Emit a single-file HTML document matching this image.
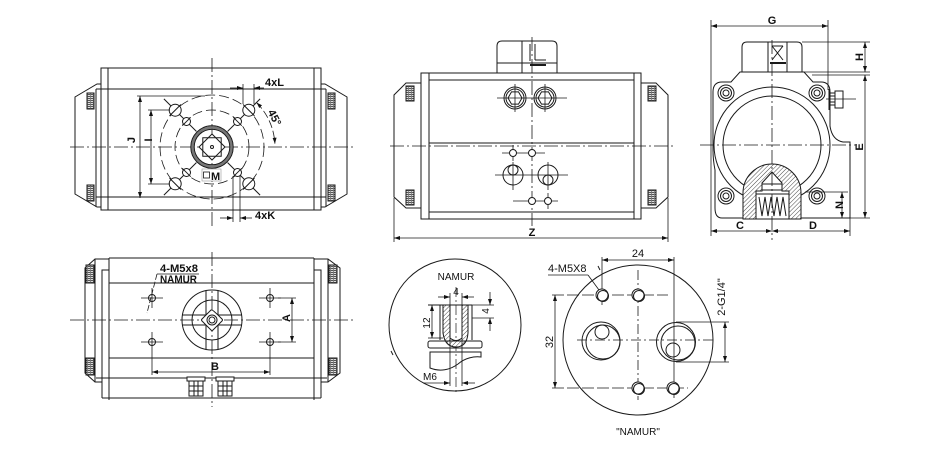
<!DOCTYPE html>
<html><head><meta charset="utf-8"><style>
html,body{margin:0;padding:0;background:#fff;}
svg{display:block;}
text{font-family:"Liberation Sans",Arial,sans-serif;fill:#111;}
.b{font-weight:bold;}
</style></head><body>
<svg width="940" height="450" viewBox="0 0 940 450" xmlns="http://www.w3.org/2000/svg">
<defs>
<marker id="a" viewBox="0 0 6 4" refX="6" refY="2" markerWidth="6" markerHeight="4" orient="auto-start-reverse" markerUnits="userSpaceOnUse" preserveAspectRatio="none"><path d="M0,0 L6,2 L0,4 z" fill="#111"/></marker>
<pattern id="k" width="3" height="2" patternUnits="userSpaceOnUse"><rect width="3" height="2" fill="#ddd"/><rect width="3" height="1" fill="#555"/><rect width="0.8" height="2" fill="#777"/></pattern>
<pattern id="h" width="3" height="3" patternUnits="userSpaceOnUse" patternTransform="rotate(45)"><rect width="3" height="3" fill="#fff"/><line x1="0" y1="0" x2="0" y2="3" stroke="#333" stroke-width="0.9"/></pattern>
</defs>
<rect width="940" height="450" fill="#fff"/>

<g stroke="#1a1a1a" fill="none" stroke-width="1">
<!-- ================= TOP LEFT VIEW ================= -->
<rect x="101" y="68" width="220" height="142"/>
<line x1="108" y1="68" x2="108" y2="210"/>
<line x1="314" y1="68" x2="314" y2="210"/>
<line x1="96" y1="89" x2="326" y2="89"/>
<line x1="96" y1="197" x2="326" y2="197"/>
<polyline points="101,84 97,84 75,97 75,194 97,207 101,207"/>
<line x1="96" y1="89" x2="96" y2="207"/>
<polyline points="321,84 325,84 347,97 347,194 325,207 321,207"/>
<line x1="326" y1="89" x2="326" y2="207"/>
<rect x="87" y="93" width="7" height="16" fill="url(#k)"/>
<rect x="87" y="185" width="7" height="16" fill="url(#k)"/>
<rect x="328" y="93" width="7" height="16" fill="url(#k)"/>
<rect x="328" y="185" width="7" height="16" fill="url(#k)"/>
<line x1="70" y1="147" x2="353" y2="147" stroke-dasharray="14 3 2 3" stroke-width=".8"/>
<line x1="212" y1="58" x2="212" y2="228" stroke-dasharray="14 3 2 3" stroke-width=".8"/>
<circle cx="212" cy="147" r="52" stroke-dasharray="10 4" stroke-width=".8"/>
<circle cx="212" cy="147" r="37" stroke-dasharray="10 4" stroke-width=".8"/>
<path d="M256.5,102.5 A63,63 0 0 1 274.9,143.7" stroke-dasharray="8 3" stroke-width=".8" marker-start="url(#a)" marker-end="url(#a)"/>
<circle cx="212" cy="147" r="19.5" stroke="#777" stroke-width="2.6"/>
<circle cx="212" cy="147" r="21.2"/>
<circle cx="212" cy="147" r="17.8"/>
<polygon points="225,147 212,134 199,147 212,160" fill="#fff"/>
<polygon points="221.2,137.8 202.8,137.8 202.8,156.2 221.2,156.2"/>
<circle cx="212" cy="147" r="1.5"/>
<line x1="196.4" y1="131.4" x2="163.9" y2="98.9"/>
<line x1="227.6" y1="131.4" x2="260.1" y2="98.9"/>
<line x1="196.4" y1="162.6" x2="163.9" y2="195.1"/>
<line x1="227.6" y1="162.6" x2="260.1" y2="195.1"/>
<circle cx="175.2" cy="110.2" r="6" fill="#fff"/><circle cx="248.8" cy="110.2" r="6" fill="#fff"/>
<circle cx="175.2" cy="183.8" r="6" fill="#fff"/><circle cx="248.8" cy="183.8" r="6" fill="#fff"/>
<circle cx="186.5" cy="121.5" r="4" fill="#fff"/><circle cx="237.5" cy="121.5" r="4" fill="#fff"/>
<circle cx="186.5" cy="172.5" r="4" fill="#fff"/><circle cx="237.5" cy="172.5" r="4" fill="#fff"/>
<line x1="180.9" y1="104.5" x2="169.5" y2="115.9"/>
<line x1="254.5" y1="115.9" x2="243.1" y2="104.5"/>
<line x1="180.9" y1="189.5" x2="169.5" y2="178.1"/>
<line x1="254.5" y1="178.1" x2="243.1" y2="189.5"/>
<line x1="190.7" y1="117.3" x2="182.3" y2="125.7"/>
<line x1="241.7" y1="125.7" x2="233.3" y2="117.3"/>
<line x1="190.7" y1="176.7" x2="182.3" y2="168.3"/>
<line x1="241.7" y1="168.3" x2="233.3" y2="176.7"/>
<!-- J / I dims -->
<line x1="140" y1="96" x2="140" y2="198" stroke-width=".8" marker-start="url(#a)" marker-end="url(#a)"/>
<line x1="137" y1="96" x2="205" y2="96" stroke-width=".8"/>
<line x1="151" y1="110" x2="151" y2="184" stroke-width=".8" marker-start="url(#a)" marker-end="url(#a)"/>
<line x1="148" y1="110" x2="170" y2="110" stroke-width=".8"/>
<line x1="148" y1="184" x2="170" y2="184" stroke-width=".8"/>
<!-- 4xL -->
<line x1="243" y1="84" x2="243" y2="104" stroke-width=".8"/>
<line x1="254" y1="84" x2="254" y2="104" stroke-width=".8"/>
<line x1="230" y1="88" x2="243" y2="88" stroke-width=".8" marker-end="url(#a)"/>
<line x1="264" y1="88" x2="254" y2="88" stroke-width=".8" marker-end="url(#a)"/>
<!-- 4xK -->
<line x1="233" y1="176" x2="233" y2="222" stroke-width=".8"/>
<line x1="240" y1="176" x2="240" y2="222" stroke-width=".8"/>
<line x1="220" y1="218" x2="233" y2="218" stroke-width=".8" marker-end="url(#a)"/>
<line x1="252" y1="218" x2="240" y2="218" stroke-width=".8" marker-end="url(#a)"/>
<rect x="202" y="169" width="19" height="12" fill="#fff" stroke="#999" stroke-width=".6"/>
<rect x="203.5" y="172" width="6" height="6" stroke-width=".8"/>

<!-- ================= TOP MIDDLE VIEW ================= -->
<rect x="421" y="73" width="220" height="146"/>
<line x1="429" y1="73" x2="429" y2="219"/>
<line x1="634" y1="73" x2="634" y2="219"/>
<line x1="429" y1="80" x2="634" y2="80"/>
<line x1="429" y1="212" x2="634" y2="212"/>
<line x1="429" y1="143" x2="634" y2="143"/>
<line x1="390" y1="146" x2="675" y2="146" stroke-dasharray="14 3 2 3" stroke-width=".8"/>
<polyline points="421,83 406,83 394,95 394,197 406,208 421,208"/>
<polyline points="641,83 656,83 668,95 668,197 656,208 641,208"/>
<rect x="406" y="86" width="8" height="15" fill="url(#k)"/>
<rect x="406" y="190" width="8" height="15" fill="url(#k)"/>
<rect x="648" y="86" width="8" height="15" fill="url(#k)"/>
<rect x="648" y="190" width="8" height="15" fill="url(#k)"/>
<path d="M497,73 L497,46 Q497,41 502,41 L552,41 Q557,41 557,46 L557,73"/>
<line x1="522" y1="41" x2="522" y2="73"/>
<line x1="497" y1="63" x2="557" y2="63"/>
<line x1="530" y1="44" x2="530" y2="61"/>
<line x1="535" y1="44" x2="535" y2="60"/>
<line x1="535" y1="60" x2="546" y2="60"/>
<line x1="530" y1="65" x2="546" y2="65" stroke-width="2"/>
<line x1="532" y1="37" x2="532" y2="226" stroke-dasharray="14 3 2 3" stroke-width=".8"/>
<circle cx="515" cy="98" r="11"/><circle cx="515" cy="98" r="9"/>
<polygon points="522,98 518.5,91.9 511.5,91.9 508,98 511.5,104.1 518.5,104.1"/>
<circle cx="545" cy="98" r="11"/><circle cx="545" cy="98" r="9"/>
<polygon points="552,98 548.5,91.9 541.5,91.9 538,98 541.5,104.1 548.5,104.1"/>
<line x1="497" y1="98" x2="567" y2="98" stroke-width=".8"/>
<line x1="515" y1="84" x2="515" y2="112" stroke-width=".8"/>
<line x1="545" y1="84" x2="545" y2="112" stroke-width=".8"/>
<line x1="502" y1="153" x2="545" y2="153" stroke-width=".8"/>
<line x1="513" y1="145" x2="513" y2="161" stroke-width=".8"/>
<circle cx="513" cy="153" r="3.5" fill="#fff"/><circle cx="532" cy="153" r="3.5" fill="#fff"/>
<line x1="495" y1="175" x2="568" y2="175" stroke-width=".8"/>
<line x1="513" y1="162" x2="513" y2="190" stroke-width=".8"/>
<line x1="548" y1="162" x2="548" y2="190" stroke-width=".8"/>
<circle cx="513" cy="175" r="10"/><circle cx="513" cy="170" r="5"/>
<circle cx="548" cy="175" r="10"/><circle cx="548" cy="180" r="5"/>
<line x1="513" y1="201" x2="558" y2="201" stroke-width=".8"/>
<line x1="548" y1="193" x2="548" y2="209" stroke-width=".8"/>
<circle cx="532" cy="201" r="3.5" fill="#fff"/><circle cx="548" cy="201" r="3.5" fill="#fff"/>
<line x1="394" y1="198" x2="394" y2="242" stroke-width=".8"/>
<line x1="668" y1="198" x2="668" y2="242" stroke-width=".8"/>
<line x1="394" y1="238" x2="668" y2="238" stroke-width=".8" marker-start="url(#a)" marker-end="url(#a)"/>

<!-- ================= TOP RIGHT VIEW ================= -->
<line x1="711" y1="20" x2="711" y2="236" stroke-width=".8"/>
<line x1="828" y1="20" x2="828" y2="90" stroke-width=".8"/>
<line x1="711" y1="26" x2="828" y2="26" stroke-width=".8" marker-start="url(#a)" marker-end="url(#a)"/>
<path d="M742,72 L742,47 Q742,42 747,42 L797,42 Q802,42 802,47 L802,72"/>
<line x1="768" y1="42" x2="768" y2="72"/>
<line x1="787" y1="42" x2="787" y2="72"/>
<line x1="772" y1="46" x2="783" y2="46"/>
<line x1="772" y1="46" x2="783" y2="60"/>
<line x1="783" y1="46" x2="772" y2="60"/>
<line x1="770" y1="63" x2="786" y2="63" stroke-width="2"/>
<path d="M713,92 Q713,82 722,82 L731,82 L740,72 L804,72 L813,82 L821,82 Q830,82 830,92 L830,126 Q832,140 843,142 L850,142 L850,218 L722,218 Q715,218 715,208 L715,170 Q713,160 713,150 Z"/>
<circle cx="772" cy="145" r="58"/>
<circle cx="772" cy="145" r="49"/>
<circle cx="726" cy="93" r="8"/><circle cx="726" cy="93" r="5.5"/><circle cx="726" cy="93" r="3"/>
<circle cx="817" cy="93" r="8"/><circle cx="817" cy="93" r="5.5"/><circle cx="817" cy="93" r="3"/>
<circle cx="726" cy="196" r="8"/><circle cx="726" cy="196" r="5.5"/><circle cx="726" cy="196" r="3"/>
<circle cx="817" cy="196" r="8"/><circle cx="817" cy="196" r="5.5"/><circle cx="817" cy="196" r="3"/>
<rect x="835" y="91" width="8" height="17"/>
<line x1="829" y1="89" x2="829" y2="110"/>
<line x1="829" y1="93" x2="835" y2="93"/><line x1="829" y1="96" x2="835" y2="96"/>
<line x1="829" y1="102" x2="835" y2="102"/><line x1="829" y1="105" x2="835" y2="105"/>
<line x1="826" y1="99" x2="856" y2="99" stroke-width=".8"/>
<path d="M743,219 L743,193 A29,29 0 0 1 801,193 L801,219 Z" fill="url(#h)"/>
<path d="M756,219 L756,191 L762,191 L762,183 L772,172 L782,183 L782,191 L789,191 L789,219 Z" fill="#fff"/>
<rect x="762" y="184" width="20" height="6"/>
<line x1="756" y1="194" x2="789" y2="194"/>
<polyline points="759,197 762,216 765,197 768,216 771,197 774,216 777,197 780,216 783,197 786,216"/>
<line x1="772" y1="40" x2="772" y2="240" stroke-dasharray="14 3 2 3" stroke-width=".8"/>
<line x1="700" y1="145" x2="856" y2="145" stroke-dasharray="14 3 2 3" stroke-width=".8"/>
<line x1="802" y1="42" x2="870" y2="42" stroke-width=".8"/>
<line x1="804" y1="72" x2="870" y2="72" stroke-width=".8"/>
<line x1="812" y1="75" x2="870" y2="75" stroke-width=".8"/>
<line x1="850" y1="218" x2="870" y2="218" stroke-width=".8"/>
<line x1="865" y1="42" x2="865" y2="72" stroke-width=".8" marker-start="url(#a)" marker-end="url(#a)"/>
<line x1="865" y1="75" x2="865" y2="218" stroke-width=".8" marker-start="url(#a)" marker-end="url(#a)"/>
<line x1="805" y1="192" x2="848" y2="192" stroke-width=".8"/>
<line x1="842" y1="192" x2="842" y2="218" stroke-width=".8" marker-start="url(#a)" marker-end="url(#a)"/>
<line x1="850" y1="218" x2="850" y2="236" stroke-width=".8"/>
<line x1="711" y1="231" x2="772" y2="231" stroke-width=".8" marker-start="url(#a)" marker-end="url(#a)"/>
<line x1="772" y1="231" x2="850" y2="231" stroke-width=".8" marker-start="url(#a)" marker-end="url(#a)"/>

<!-- ================= BOTTOM LEFT VIEW ================= -->
<line x1="109" y1="258" x2="314" y2="258"/>
<line x1="109" y1="258" x2="109" y2="400"/>
<line x1="314" y1="258" x2="314" y2="400"/>
<line x1="109" y1="283" x2="314" y2="283"/>
<line x1="109" y1="358" x2="314" y2="358"/>
<line x1="96" y1="378" x2="327" y2="378"/>
<line x1="102" y1="398" x2="321" y2="398"/>
<polyline points="109,270 102,270 102,398"/>
<polyline points="314,270 321,270 321,398"/>
<polyline points="109,259 95,259 85,268 85,373 95,382 102,382"/>
<line x1="95" y1="259" x2="95" y2="382"/>
<polyline points="314,259 328,259 340,268 340,373 328,382 321,382"/>
<line x1="328" y1="259" x2="328" y2="382"/>
<rect x="86" y="265" width="8" height="18" fill="url(#k)"/>
<rect x="86" y="358" width="8" height="17" fill="url(#k)"/>
<rect x="329" y="265" width="8" height="18" fill="url(#k)"/>
<rect x="329" y="358" width="8" height="17" fill="url(#k)"/>
<line x1="70" y1="320" x2="353" y2="320" stroke-dasharray="14 3 2 3" stroke-width=".8"/>
<line x1="212" y1="252" x2="212" y2="407" stroke-dasharray="14 3 2 3" stroke-width=".8"/>
<circle cx="212" cy="320" r="30"/>
<circle cx="212" cy="320" r="20"/>
<line x1="206" y1="290.6" x2="206" y2="349.4"/>
<line x1="218" y1="290.6" x2="218" y2="349.4"/>
<line x1="182.4" y1="315" x2="241.6" y2="315"/>
<line x1="182.4" y1="325" x2="241.6" y2="325"/>
<path d="M212,310 Q213,310 222,319 Q223,320 222,321 L213,330 Q212,331 211,330 L202,321 Q201,320 202,319 L211,310 Q211.5,310 212,310 Z" fill="#fff"/>
<circle cx="212" cy="320" r="5"/><circle cx="212" cy="320" r="3"/>
<circle cx="152" cy="298" r="3.5"/><circle cx="270" cy="298" r="3.5"/>
<circle cx="152" cy="342" r="3.5"/><circle cx="270" cy="342" r="3.5"/>
<g stroke-width=".8">
<line x1="141" y1="298" x2="163" y2="298"/><line x1="152" y1="288" x2="152" y2="308"/>
<line x1="259" y1="298" x2="281" y2="298"/><line x1="270" y1="288" x2="270" y2="308"/>
<line x1="141" y1="342" x2="163" y2="342"/><line x1="152" y1="332" x2="152" y2="375"/>
<line x1="259" y1="342" x2="281" y2="342"/><line x1="270" y1="332" x2="270" y2="375"/>
<line x1="278" y1="298" x2="296" y2="298"/>
<line x1="278" y1="342" x2="296" y2="342"/>
</g>
<line x1="157" y1="274" x2="199" y2="274" stroke-width=".8"/>
<line x1="157" y1="274" x2="147" y2="313" stroke-width=".8" stroke-dasharray="6 2"/>
<line x1="292" y1="298" x2="292" y2="342" stroke-width=".8" marker-start="url(#a)" marker-end="url(#a)"/>
<line x1="152" y1="372" x2="270" y2="372" stroke-width=".8" marker-start="url(#a)" marker-end="url(#a)"/>
<g fill="#fff">
<rect x="187" y="377" width="18" height="4"/>
<rect x="189" y="381" width="14" height="15"/>
<rect x="216" y="377" width="18" height="4"/>
<rect x="218" y="381" width="14" height="15"/>
</g>
<line x1="189" y1="386" x2="203" y2="386"/><line x1="189" y1="391" x2="203" y2="391"/>
<line x1="194" y1="381" x2="194" y2="396"/><line x1="198" y1="381" x2="198" y2="396"/>
<line x1="218" y1="386" x2="232" y2="386"/><line x1="218" y1="391" x2="232" y2="391"/>
<line x1="223" y1="381" x2="223" y2="396"/><line x1="227" y1="381" x2="227" y2="396"/>

<!-- ================= BOTTOM MIDDLE (NAMUR detail) ================= -->
<circle cx="455" cy="325" r="66"/>
<line x1="456" y1="287" x2="456" y2="392" stroke-dasharray="10 3 2 3" stroke-width=".7"/>
<line x1="428" y1="305" x2="472" y2="305"/>
<line x1="440" y1="305" x2="440" y2="340"/>
<line x1="472" y1="305" x2="472" y2="340"/>
<line x1="428" y1="338" x2="443" y2="338" stroke-width=".8"/>
<path d="M443,305 L450,305 L450,338 Q456,343 462,338 L462,305 L468,305 L468,333 Q467,347 456,347 Q445,347 443,333 Z" fill="url(#h)"/>
<line x1="450" y1="293" x2="450" y2="386" stroke-width=".8"/>
<line x1="462" y1="293" x2="462" y2="386" stroke-width=".8"/>
<rect x="428" y="341" width="54" height="7" rx="2"/>
<path d="M430,352 L481,352 L481,357 C474,356 465,358 458,364 C450,370 440,372 430,368 Z"/>
<line x1="438" y1="297" x2="450" y2="297" stroke-width=".8" marker-end="url(#a)"/>
<line x1="474" y1="297" x2="462" y2="297" stroke-width=".8" marker-end="url(#a)"/>
<line x1="432" y1="305" x2="432" y2="338" stroke-width=".8" marker-start="url(#a)" marker-end="url(#a)"/>
<line x1="472" y1="318" x2="494" y2="318" stroke-width=".8"/>
<line x1="472" y1="305" x2="494" y2="305" stroke-width=".8"/>
<line x1="490" y1="292" x2="490" y2="305" stroke-width=".8" marker-end="url(#a)"/>
<line x1="490" y1="331" x2="490" y2="318" stroke-width=".8" marker-end="url(#a)"/>
<line x1="423" y1="383" x2="450" y2="383" stroke-width=".8" marker-end="url(#a)"/>
<line x1="475" y1="383" x2="462" y2="383" stroke-width=".8" marker-end="url(#a)"/>
<line x1="391" y1="351" x2="393" y2="355"/>

<!-- ================= BOTTOM RIGHT VIEW ================= -->
<circle cx="638" cy="340" r="75"/>
<line x1="577" y1="340" x2="715" y2="340" stroke-dasharray="10 3 2 3" stroke-width=".8"/>
<line x1="638" y1="270" x2="638" y2="400" stroke-dasharray="10 3 2 3" stroke-width=".8"/>
<line x1="552" y1="295" x2="668" y2="295" stroke-dasharray="12 3" stroke-width=".8"/>
<line x1="552" y1="388" x2="688" y2="388" stroke-dasharray="12 3" stroke-width=".8"/>
<line x1="602" y1="257" x2="602" y2="305" stroke-width=".8"/>
<line x1="674" y1="257" x2="674" y2="398" stroke-width=".8"/>
<circle cx="602" cy="295" r="6" fill="#fff"/><circle cx="603" cy="296" r="5.5"/>
<circle cx="638" cy="295" r="6" fill="#fff"/><circle cx="639" cy="296" r="5.5"/>
<circle cx="638" cy="388" r="6" fill="#fff"/><circle cx="639" cy="389" r="5.5"/>
<circle cx="673" cy="388" r="6" fill="#fff"/><circle cx="674" cy="389" r="5.5"/>
<circle cx="601" cy="341" r="19"/><circle cx="603" cy="342" r="17"/><circle cx="602" cy="332" r="7"/>
<circle cx="676" cy="342" r="19.5"/><circle cx="678" cy="343" r="17"/><circle cx="673" cy="350" r="7"/>
<line x1="602" y1="260" x2="674" y2="260" stroke-width=".8" marker-start="url(#a)" marker-end="url(#a)"/>
<line x1="555" y1="295" x2="555" y2="388" stroke-width=".8" marker-start="url(#a)" marker-end="url(#a)"/>
<line x1="676" y1="322" x2="729" y2="322" stroke-width=".8"/>
<line x1="676" y1="362" x2="729" y2="362" stroke-width=".8"/>
<line x1="725" y1="322" x2="725" y2="362" stroke-width=".8" marker-start="url(#a)" marker-end="url(#a)"/>
<line x1="548" y1="275" x2="588" y2="275" stroke-width=".8"/>
<line x1="588" y1="275" x2="599" y2="290" stroke-width=".8"/>
<line x1="598" y1="266" x2="600" y2="270"/>
</g>

<!-- ================= TEXT ================= -->
<g class="b" font-size="11">
<text x="135" y="140" text-anchor="middle" transform="rotate(-90 135 140)">J</text>
<text x="152" y="140" text-anchor="middle" transform="rotate(-90 152 140)">I</text>
<text x="265" y="86">4xL</text>
<text x="274" y="118" text-anchor="middle" dominant-baseline="central" transform="rotate(62 274 118)">45°</text>
<text x="211" y="180">M</text>
<text x="255" y="219">4xK</text>
<text x="532" y="236" text-anchor="middle">Z</text>
<text x="772" y="24" text-anchor="middle">G</text>
<text x="863" y="57" text-anchor="middle" transform="rotate(-90 863 57)">H</text>
<text x="863" y="147" text-anchor="middle" transform="rotate(-90 863 147)">E</text>
<text x="843" y="205" text-anchor="middle" transform="rotate(-90 843 205)">N</text>
<text x="740" y="229" text-anchor="middle">C</text>
<text x="813" y="229" text-anchor="middle">D</text>
<text x="160" y="272" textLength="38" lengthAdjust="spacingAndGlyphs">4-M5x8</text>
<text x="160" y="283" textLength="37" lengthAdjust="spacingAndGlyphs">NAMUR</text>
<text x="290" y="318" text-anchor="middle" transform="rotate(-90 290 318)">A</text>
<text x="215" y="370" text-anchor="middle">B</text>
</g>
<g font-size="10">
<text x="456" y="280" text-anchor="middle">NAMUR</text>
<text x="456" y="295" text-anchor="middle">4</text>
<text x="430" y="323" text-anchor="middle" transform="rotate(-90 430 323)">12</text>
<text x="489" y="311" text-anchor="middle" transform="rotate(-90 489 311)">4</text>
<text x="423" y="380">M6</text>
</g>
<g font-size="11">
<text x="638" y="257" text-anchor="middle">24</text>
<text x="553" y="342" text-anchor="middle" transform="rotate(-90 553 342)">32</text>
<text x="725" y="297" text-anchor="middle" transform="rotate(-90 725 297)">2-G1/4"</text>
<text x="548" y="272">4-M5X8</text>
<text x="638" y="435" text-anchor="middle" font-size="10">"NAMUR"</text>
</g>
</svg>
</body></html>
